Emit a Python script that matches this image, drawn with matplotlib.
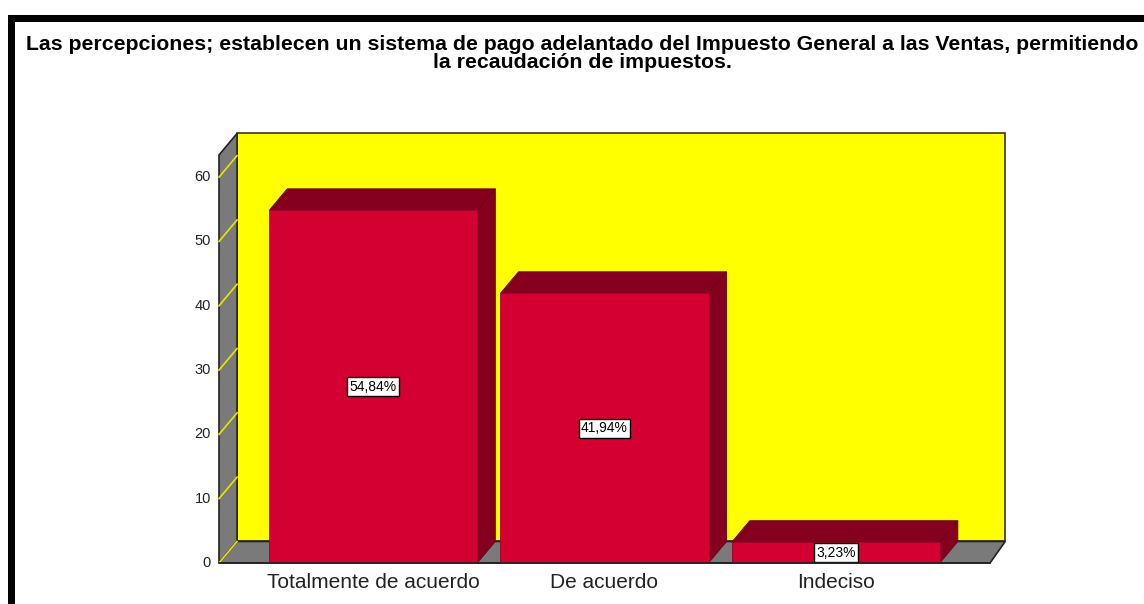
import matplotlib
matplotlib.use("Agg")
import matplotlib.pyplot as plt
from matplotlib.patches import Polygon, Rectangle

plt.rcParams['font.family'] = ['Liberation Sans', 'DejaVu Sans']

# datos
categorias = ["Totalmente de acuerdo", "De acuerdo", "Indeciso"]
porcentajes = [54.84, 41.94, 3.23]
etiquetas = ["54,84%", "41,94%", "3,23%"]
ticks_y = [0, 10, 20, 30, 40, 50, 60]
titulo = ["Las percepciones; establecen un sistema de pago adelantado del Impuesto General a las Ventas, permitiendo",
          "la recaudación de impuestos."]

rojo = "#D50032"
rojo_osc = "#85001F"
gris = "#7A7A7A"
amarillo = "#FFFF00"

fig = plt.figure(figsize=(11.44, 6.04), dpi=100)
ax = fig.add_axes([219 / 1144, 1 - 563 / 604, 771 / 1144, 408 / 604])
x0, x1 = -0.667, 2.667
ymax = 63.45
ax.set_xlim(x0, x1)
ax.set_ylim(0, ymax)
ax.axis("off")

# profundidad del efecto 3D (en unidades de datos)
dx = 0.078
dy = 3.35

# pared del fondo
ax.add_patch(Polygon([(x0 + dx, dy), (x1 + dx - 0.012, dy), (x1 + dx - 0.012, ymax + dy), (x0 + dx, ymax + dy)],
                     closed=True, facecolor=amarillo, edgecolor="#333333", lw=1.2, clip_on=False, zorder=1))
# pared izquierda
ax.add_patch(Polygon([(x0, 0), (x0, ymax), (x0 + dx, ymax + dy), (x0 + dx, dy)],
                     closed=True, facecolor=gris, edgecolor="#222222", lw=1.2, clip_on=False, zorder=2))
# piso
ax.add_patch(Polygon([(x0, 0), (x1, 0), (x1 + dx - 0.012, dy), (x0 + dx, dy)],
                     closed=True, facecolor=gris, edgecolor="#222222", lw=1.2, clip_on=False, zorder=2))

# marcas del eje y
for t in ticks_y:
    ax.plot([x0, x0 + dx], [t, t + dy], color="#E6E600", lw=1.2, zorder=3, clip_on=False)
    ax.text(x0 - 0.035, t, str(t), ha="right", va="center", fontsize=10.5, color="#222222")

# barras
w = 0.9
for i, v in enumerate(porcentajes):
    l, r = i - w / 2, i + w / 2
    ax.add_patch(Polygon([(l, v), (r, v), (r + dx, v + dy), (l + dx, v + dy)], closed=True,
                         facecolor=rojo_osc, edgecolor="#6A0018", lw=0.6, zorder=4, clip_on=False))
    ax.add_patch(Polygon([(r, 0), (r + dx, dy), (r + dx, v + dy), (r, v)], closed=True,
                         facecolor=rojo_osc, edgecolor="#6A0018", lw=0.6, zorder=4, clip_on=False))
    ax.add_patch(Rectangle((l, 0), w, v, facecolor=rojo, edgecolor="#A0002A", lw=0.6, zorder=5))
    ax.text(i, v / 2, etiquetas[i], ha="center", va="center", fontsize=10, zorder=6,
            bbox=dict(boxstyle="square,pad=0.18", facecolor="white", edgecolor="black", lw=1))
    ax.text(i, -1.6, categorias[i], ha="center", va="top", fontsize=15, color="#222222")

ax.plot([x0, x1], [0, 0], color="#222222", lw=1.2, zorder=6, clip_on=False)

fig.text(582 / 1144, 1 - 44 / 604, titulo[0], ha="center", va="center", fontsize=15.3, fontweight="bold")
fig.text(582 / 1144, 1 - 63 / 604, titulo[1], ha="center", va="center", fontsize=15.3, fontweight="bold")

# marco negro
fig.patches.append(Rectangle((8 / 1144, 0), 7 / 1144, 1 - 15 / 604, transform=fig.transFigure,
                             facecolor="black", edgecolor="none"))
fig.patches.append(Rectangle((8 / 1144, 1 - 22 / 604), 1, 7 / 604, transform=fig.transFigure,
                             facecolor="black", edgecolor="none"))

fig.savefig("out.png", dpi=100)
